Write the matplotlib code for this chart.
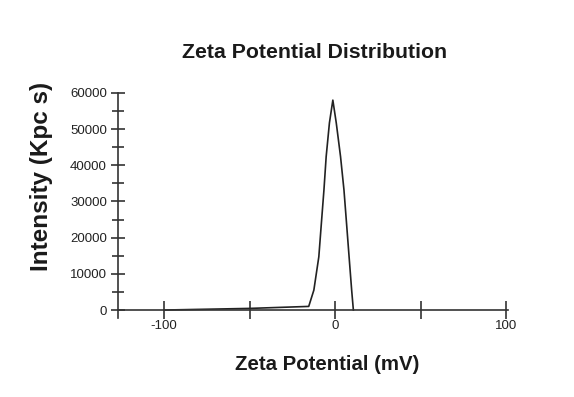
import matplotlib
matplotlib.use("Agg")
import matplotlib.pyplot as plt
from matplotlib.ticker import MultipleLocator, FixedLocator

plt.rcParams['font.family'] = ['Liberation Sans', 'DejaVu Sans']

zeta_mv = [-100, -50, -15.5, -12.5, -9.6, -8.1, -6.6, -5.3, -3.4, -1.4,
           0.6, 3.1, 5.1, 6.6, 8.1, 9.6, 10.6]
intensity = [0, 450, 1000, 5500, 14700, 24000, 33200, 42400, 51700, 58000,
             51700, 42400, 33200, 24000, 14700, 5500, 0]

x_major = [-100, 0, 100]
x_minor = [-50, 50]
x_labels = ["-100", "0", "100"]
y_major = [0, 10000, 20000, 30000, 40000, 50000, 60000]

fig = plt.figure(figsize=(5.74, 3.97), dpi=100)
ax = fig.add_axes([118/574, 1-318/397, (508-118)/574, (318-90)/397])

ax.plot(zeta_mv, intensity, color='#222222', lw=1.2)

ax.set_xlim(-127, 101)
ax.set_ylim(-2200, 60800)

for s in ['top', 'right']:
    ax.spines[s].set_visible(False)
ax.spines['bottom'].set_position(('data', 0))
ax.spines['left'].set_bounds(-2200, 60000)
for s in ['left', 'bottom']:
    ax.spines[s].set_color('#333333')
    ax.spines[s].set_linewidth(1.2)

ax.xaxis.set_major_locator(FixedLocator(x_major))
ax.xaxis.set_minor_locator(FixedLocator(x_minor))
ax.set_xticklabels(x_labels)
ax.yaxis.set_major_locator(FixedLocator(y_major))
ax.yaxis.set_minor_locator(MultipleLocator(5000))

ax.tick_params(axis='both', which='both', direction='inout', color='#333333',
               width=1.2, labelsize=9.5, labelcolor='#222222')
ax.tick_params(axis='y', which='major', length=10, pad=3)
ax.tick_params(axis='y', which='minor', length=8)
ax.tick_params(axis='x', which='both', length=13)
ax.tick_params(axis='x', which='major', pad=1)

fig.text(315/574, 1-53/397, "Zeta Potential Distribution", ha='center', va='center',
         fontsize=15.3, fontweight='bold', color='#1a1a1a')
fig.text(327/574, 1-364/397, "Zeta Potential (mV)", ha='center', va='center',
         fontsize=14.7, fontweight='bold', color='#1a1a1a')
fig.text(42/574, 1-176/397, "Intensity (Kpc s)", ha='center', va='center',
         rotation=90, fontsize=17.5, fontweight='bold', color='#1a1a1a')

fig.savefig("out.png", dpi=100, facecolor='white')
